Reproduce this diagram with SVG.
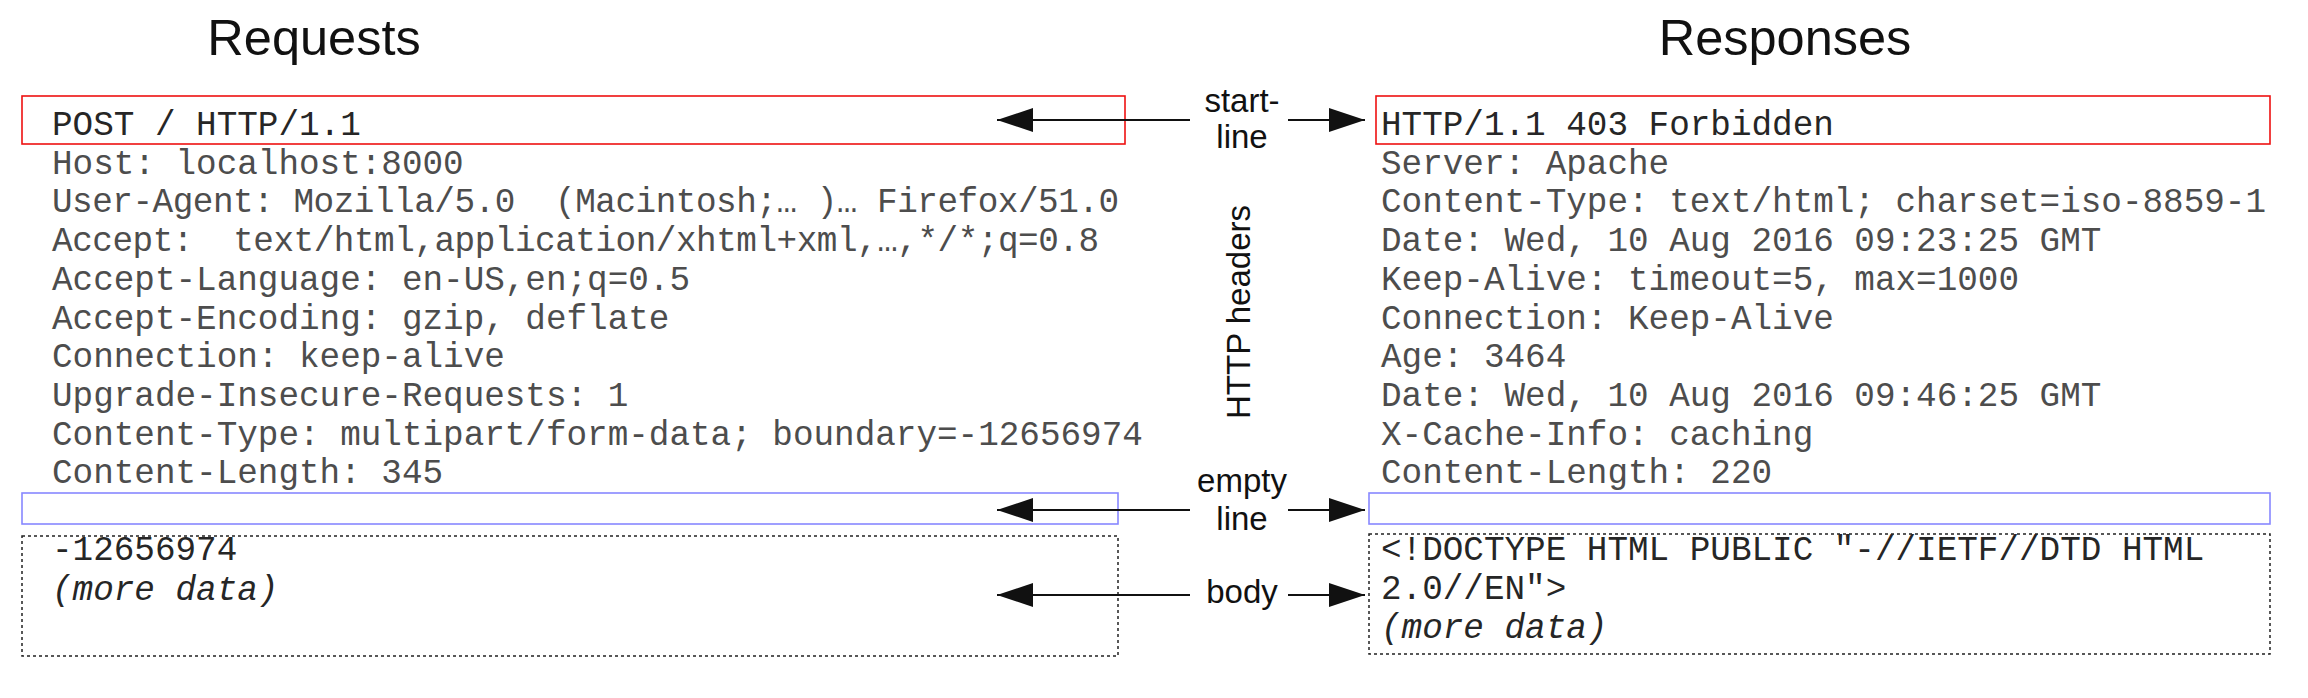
<svg xmlns="http://www.w3.org/2000/svg" width="2308" height="698" viewBox="0 0 2308 698">
<style>
.title{font-family:"Liberation Sans",Arial,sans-serif;font-size:50.5px;fill:#111}
.lbl{font-family:"Liberation Sans",Arial,sans-serif;font-size:33px;fill:#111;text-anchor:middle}
.mono{font-family:"Liberation Mono","Courier New",monospace;font-size:34.3px;fill:#4d4d4d;white-space:pre}
.start{fill:#262626}
.it{font-style:italic}
.red{fill:none;stroke:#ee1111;stroke-width:1.6}
.blue{fill:none;stroke:#8888ff;stroke-width:1.6}
.dot{fill:none;stroke:#222;stroke-width:1.5;stroke-dasharray:3 3}
.conn{stroke:#111;stroke-width:2;fill:none;marker-end:url(#ah)}
</style>
<defs>
<marker id="ah" markerUnits="userSpaceOnUse" markerWidth="36" markerHeight="24" refX="36" refY="12" orient="auto">
<path d="M0,0 L36,12 L0,24 Z" fill="#111"/>
</marker>
</defs>
<rect width="2308" height="698" fill="#fff"/>
<g id="titles">
<text class="title" x="314" y="55" text-anchor="middle">Requests</text>
<text class="title" x="1785" y="55" text-anchor="middle">Responses</text>
</g>
<g id="request-start-line">
<rect class="red" x="22" y="96" width="1103" height="48"/>
<text class="mono start" x="52" y="135">POST / HTTP/1.1</text>
</g>
<g id="request-headers">
<text class="mono" x="52" y="173.7">Host: localhost:8000</text>
<text class="mono" x="52" y="212.4" textLength="1067" lengthAdjust="spacing" xml:space="preserve">User-Agent: Mozilla/5.0  (Macintosh;… )… Firefox/51.0</text>
<text class="mono" x="52" y="251.1" textLength="1047" lengthAdjust="spacing" xml:space="preserve">Accept:  text/html,application/xhtml+xml,…,*/*;q=0.8</text>
<text class="mono" x="52" y="289.8">Accept-Language: en-US,en;q=0.5</text>
<text class="mono" x="52" y="328.5">Accept-Encoding: gzip, deflate</text>
<text class="mono" x="52" y="367.2">Connection: keep-alive</text>
<text class="mono" x="52" y="405.9">Upgrade-Insecure-Requests: 1</text>
<text class="mono" x="52" y="444.6">Content-Type: multipart/form-data; boundary=-12656974</text>
<text class="mono" x="52" y="483.3">Content-Length: 345</text>
</g>
<g id="request-empty-line">
<rect class="blue" x="22" y="493" width="1096" height="31"/>
</g>
<g id="request-body">
<rect class="dot" x="22" y="536" width="1096" height="120"/>
<text class="mono start" x="52" y="560">-12656974</text>
<text class="mono start it" x="52" y="600">(more data)</text>
</g>
<g id="response-start-line">
<rect class="red" x="1376" y="96" width="894" height="48"/>
<text class="mono start" x="1381" y="135">HTTP/1.1 403 Forbidden</text>
</g>
<g id="response-headers">
<text class="mono" x="1381" y="173.7">Server: Apache</text>
<text class="mono" x="1381" y="212.4">Content-Type: text/html; charset=iso-8859-1</text>
<text class="mono" x="1381" y="251.1">Date: Wed, 10 Aug 2016 09:23:25 GMT</text>
<text class="mono" x="1381" y="289.8">Keep-Alive: timeout=5, max=1000</text>
<text class="mono" x="1381" y="328.5">Connection: Keep-Alive</text>
<text class="mono" x="1381" y="367.2">Age: 3464</text>
<text class="mono" x="1381" y="405.9">Date: Wed, 10 Aug 2016 09:46:25 GMT</text>
<text class="mono" x="1381" y="444.6">X-Cache-Info: caching</text>
<text class="mono" x="1381" y="483.3">Content-Length: 220</text>
</g>
<g id="response-empty-line">
<rect class="blue" x="1369" y="493" width="901" height="31"/>
</g>
<g id="response-body">
<rect class="dot" x="1369" y="534" width="901" height="120"/>
<text class="mono start" x="1381" y="560">&lt;!DOCTYPE HTML PUBLIC "-//IETF//DTD HTML</text>
<text class="mono start" x="1381" y="599">2.0//EN"&gt;</text>
<text class="mono start it" x="1381" y="638">(more data)</text>
</g>
<g id="labels">
<text class="lbl" x="1242" y="112">start-</text>
<text class="lbl" x="1242" y="148">line</text>
<text class="lbl" transform="translate(1250,312) rotate(-90)">HTTP headers</text>
<text class="lbl" x="1242" y="492">empty</text>
<text class="lbl" x="1242" y="530">line</text>
<text class="lbl" x="1242" y="603">body</text>
</g>
<g id="connectors">
<line class="conn" x1="1190" y1="120" x2="997" y2="120"/>
<line class="conn" x1="1288" y1="120" x2="1365" y2="120"/>
<line class="conn" x1="1190" y1="510" x2="997" y2="510"/>
<line class="conn" x1="1288" y1="510" x2="1365" y2="510"/>
<line class="conn" x1="1190" y1="595" x2="997" y2="595"/>
<line class="conn" x1="1288" y1="595" x2="1365" y2="595"/>
</g>
</svg>
